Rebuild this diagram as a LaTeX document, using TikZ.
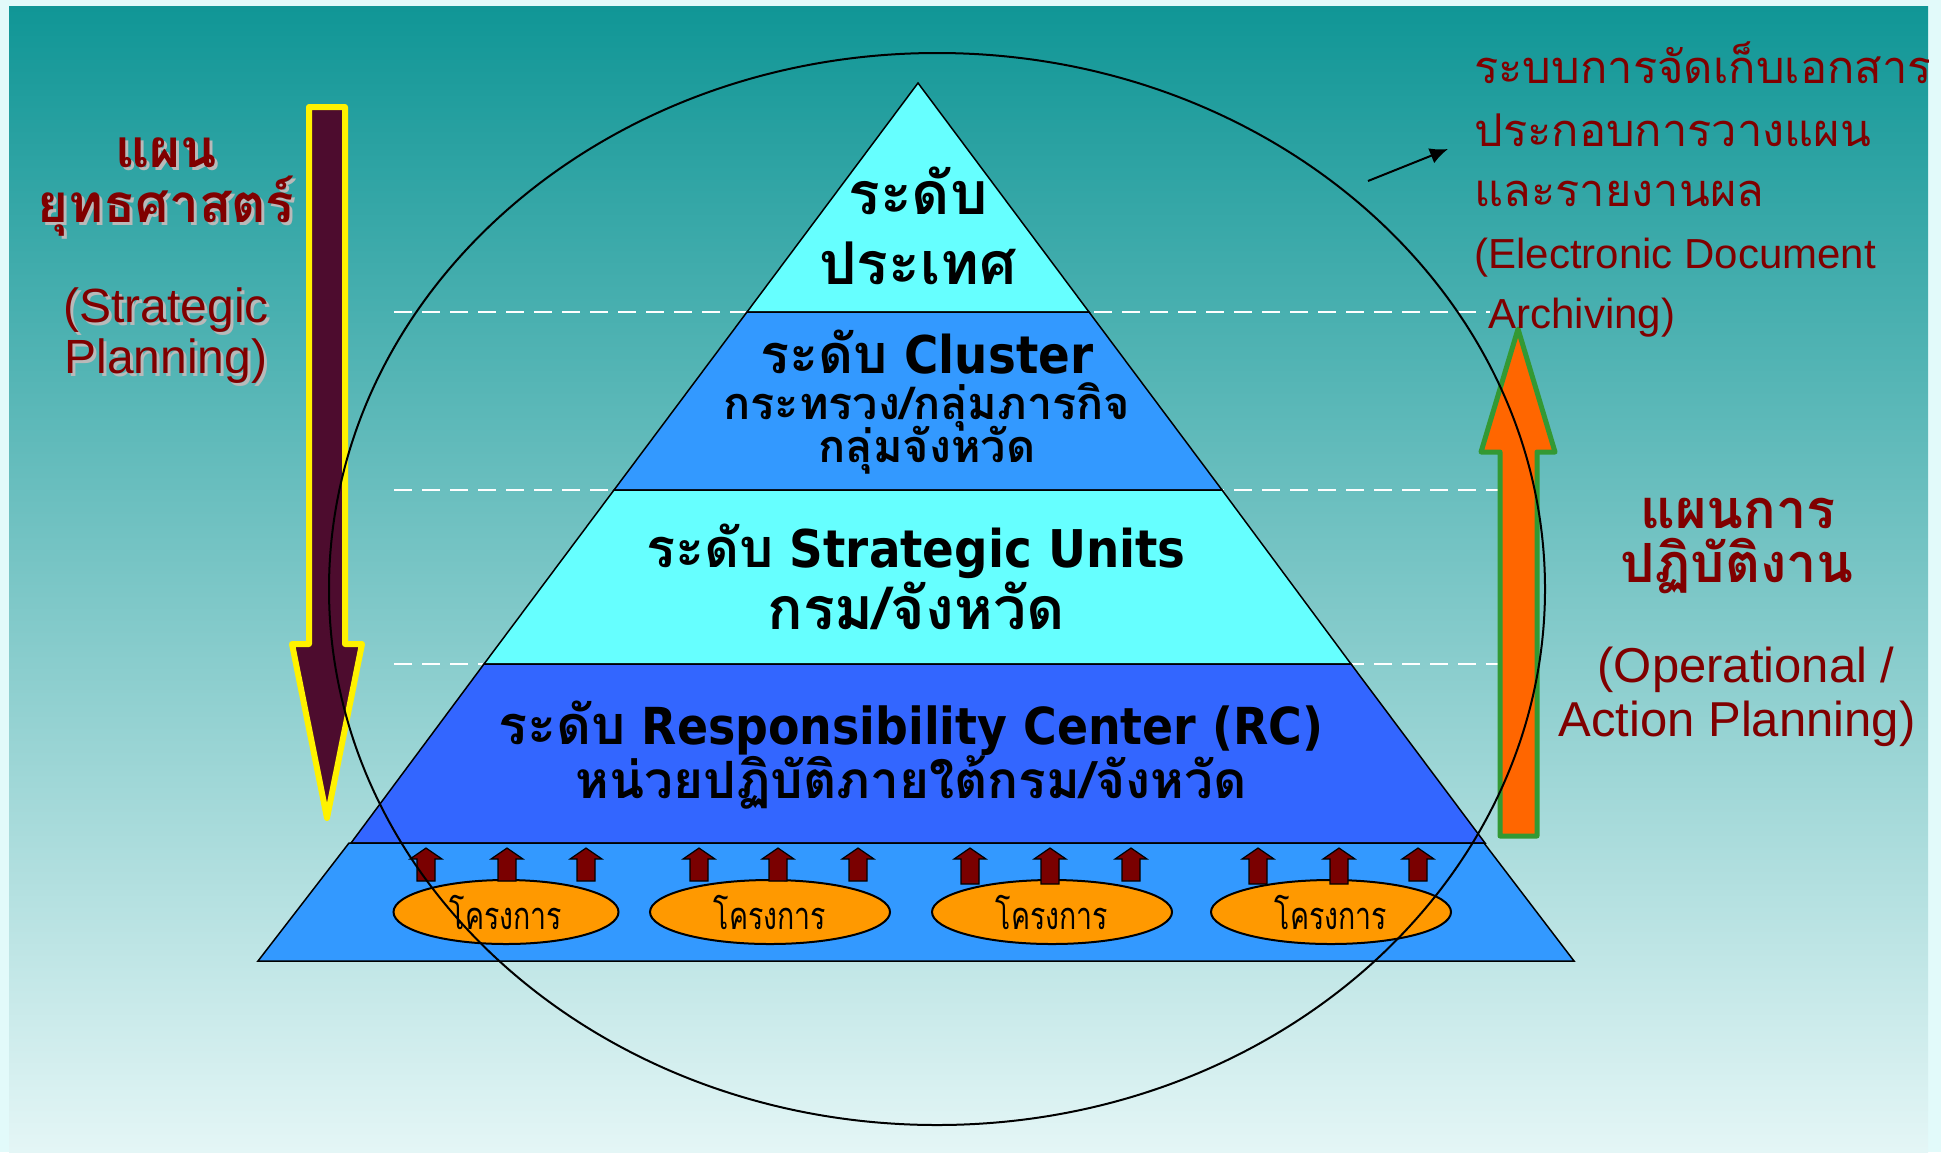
\documentclass[tikz,border=0pt]{standalone}
\usepackage{fontspec}
\setmainfont{Liberation Sans}
\newfontfamily\thai[Script=Thai]{Loma}
\newfontfamily\thaiproj[Script=Thai,FakeStretch=0.75]{Loma}
\newfontfamily\lat{DejaVu Sans Condensed}
\usetikzlibrary{arrows.meta,shapes.geometric}
\definecolor{dred}{RGB}{128,0,0}
\definecolor{bgtop}{RGB}{16,150,150}
\definecolor{bgmid}{RGB}{122,180,180}
\definecolor{bgbot}{RGB}{228,246,246}
\definecolor{outerbg}{RGB}{226,250,250}
\definecolor{cyantier}{RGB}{102,255,255}
\definecolor{bluetier}{RGB}{51,153,255}
\definecolor{darktier}{RGB}{51,102,255}
\definecolor{projfill}{RGB}{255,153,0}
\definecolor{smallarr}{RGB}{122,0,0}
\definecolor{downfill}{RGB}{77,12,46}
\definecolor{upfill}{RGB}{255,102,0}
\definecolor{upline}{RGB}{51,153,51}
\definecolor{shadowgray}{RGB}{185,185,185}
\newcommand\bigthai{\thai\bfseries\fontsize{27pt}{30pt}\selectfont}
\newcommand\hugethai{\thai\bfseries\fontsize{29.5pt}{32pt}\selectfont}
\newcommand\midthai{\thai\bfseries\fontsize{22.5pt}{26pt}\selectfont}
\newcommand\redthai{\thai\bfseries\fontsize{26.5pt}{30pt}\selectfont}
\newcommand\latbig{\lat\bfseries\fontsize{26pt}{30pt}\selectfont}
\tikzset{
  tiershape/.style={draw=black, line width=0.75pt, line join=miter},
  dashline/.style={draw=white, line width=1.2pt, dash pattern=on 9pt off 5pt},
  tt/.style={anchor=base, inner sep=0pt, text=black},
  rt/.style={anchor=base, inner sep=0pt, text=dred},
  rtw/.style={anchor=base west, inner sep=0pt, text=dred},
  shadowtxt/.style={anchor=base, inner sep=0pt, text=shadowgray},
  proj/.style={ellipse, draw=black, line width=1pt, fill=projfill, minimum width=112.5pt, minimum height=32pt, inner sep=0pt, font=\thaiproj\fontsize{19pt}{20pt}\selectfont},
  smallup/.style={fill=smallarr, draw=black, line width=0.6pt},
}
\begin{document}
\begin{tikzpicture}[x=0.5pt,y=-0.5pt]
\useasboundingbox (0,0) rectangle (1941,1152);
% background
\fill[outerbg] (0,0) rectangle (1941,1152);
\shade[top color=bgtop, middle color=bgmid, bottom color=bgbot] (9,6) rectangle (1928,1152);
% dashed level lines
\draw[dashline] (394,312) -- (1490,312);
\draw[dashline] (394,490) -- (1502,490);
\draw[dashline] (394,664) -- (1502,664);
% pyramid tiers
\path[tiershape, fill=cyantier] (918,83) -- (1089,312) -- (747,312) -- cycle;
\path[tiershape, fill=bluetier] (747,312) -- (1089,312) -- (1222,490) -- (614,490) -- cycle;
\path[tiershape, fill=cyantier] (614,490) -- (1222,490) -- (1351,664) -- (484,664) -- cycle;
\path[tiershape, fill=darktier] (484,664) -- (1351,664) -- (1485,843) -- (351,843) -- cycle;
\path[tiershape, fill=bluetier] (349,843) -- (1484,843) -- (1574,961) -- (258,961) -- cycle;
% projects
\node[proj] (e1) at (506,912) {โครงการ};
\node[proj, minimum width=120pt] (e2) at (770,912) {โครงการ};
\node[proj, minimum width=120pt] (e3) at (1052,912) {โครงการ};
\node[proj, minimum width=120pt] (e4) at (1331,912) {โครงการ};
\foreach \ax/\ab in {426/881, 507/881, 586/881, 699/881, 778/881, 858/881, 970/884, 1050/884, 1131/881, 1258/884, 1339/884, 1418/881}{
  \path[smallup] (\ax-9,\ab) -- (\ax-9,859) -- (\ax-16,859) -- (\ax,848) -- (\ax+16,859) -- (\ax+9,859) -- (\ax+9,\ab) -- cycle;
}
% big arrows
\path[fill=downfill, draw=yellow, line width=3pt, line join=round] (309,107) -- (345,107) -- (345,644) -- (362,644) -- (327,818) -- (292,644) -- (309,644) -- cycle;
\path[fill=upfill, draw=upline, line width=2.5pt, line join=round] (1500,836) -- (1537,836) -- (1537,452) -- (1555,452) -- (1518,329) -- (1481,452) -- (1500,452) -- cycle;
% circle
\draw[black, line width=1pt] (937,589) ellipse [x radius=304pt, y radius=268pt];
% pointer arrow
\coordinate (pa) at (1368,181);
\coordinate (pb) at (1448,149);
\draw[line width=1pt, -{Latex[length=9pt,width=8pt]}] (pa) -- (pb);
% tier texts
\node[tt, font=\hugethai] (t1a) at (918,214) {ระดับ};
\node[tt, font=\hugethai] (t1b) at (918,284) {ประเทศ};
\node[tt, font=\latbig] (t2a) at (927,373) {{\bigthai ระดับ} Cluster};
\node[tt, font=\midthai] (t2b) at (927,419) {กระทรวง/กลุ่มภารกิจ};
\node[tt, font=\midthai] (t2c) at (927,462) {กลุ่มจังหวัด};
\node[tt, font=\latbig] (t3a) at (916,567) {{\bigthai ระดับ} Strategic Units};
\node[tt, font=\hugethai] (t3b) at (916,629) {กรม/จังหวัด};
\node[tt, font=\lat\bfseries\fontsize{25.5pt}{30pt}\selectfont] (t4a) at (911,744) {{\bigthai ระดับ} Responsibility Center (RC)};
\node[tt, font=\thai\bfseries\fontsize{25.7pt}{28pt}\selectfont] (t4b) at (911,798) {หน่วยปฏิบัติภายใต้กรม/จังหวัด};
% left texts with shadow
\foreach \tx/\ty/\tf/\tc in {166/167/\redthai/แผน, 166/222/\redthai/ยุทธศาสตร์, 166/322/\fontsize{24pt}{28pt}\selectfont/(Strategic, 166/373/\fontsize{24pt}{28pt}\selectfont/Planning)}{
  \node[shadowtxt, font=\tf] at (\tx+3,\ty+3) {\tc};
}
\node[rt, font=\redthai] (l1) at (166,167) {แผน};
\node[rt, font=\redthai] (l2) at (166,222) {ยุทธศาสตร์};
\node[rt, font=\fontsize{24pt}{28pt}\selectfont] (l3) at (166,322) {(Strategic};
\node[rt, font=\fontsize{24pt}{28pt}\selectfont] (l4) at (166,373) {Planning)};
% right texts
\node[rt, font=\bigthai] (r1) at (1738,528) {แผนการ};
\node[rt, font=\bigthai] (r2) at (1737,582) {ปฏิบัติงาน};
\node[rt, font=\fontsize{24.5pt}{28pt}\selectfont] (r3) at (1746,682) {(Operational /};
\node[rt, font=\fontsize{24.5pt}{28pt}\selectfont] (r4) at (1737,736) {Action Planning)};
\begin{scope}
\clip (9,0) rectangle (1928,1152);
\node[rtw, font=\thai\fontsize{22.6pt}{26pt}\selectfont] (d1) at (1474,83) {ระบบการจัดเก็บเอกสาร};
\end{scope}
\node[rtw, font=\thai\fontsize{22.6pt}{26pt}\selectfont] (d2) at (1474,146) {ประกอบการวางแผน};
\node[rtw, font=\thai\fontsize{22.6pt}{26pt}\selectfont] (d3) at (1474,206) {และรายงานผล};
\node[rtw, font=\fontsize{21pt}{26pt}\selectfont] (d4) at (1474,268) {(Electronic Document};
\node[rtw, font=\fontsize{21pt}{26pt}\selectfont] (d5) at (1488,328) {Archiving)};
\end{tikzpicture}
\end{document}
